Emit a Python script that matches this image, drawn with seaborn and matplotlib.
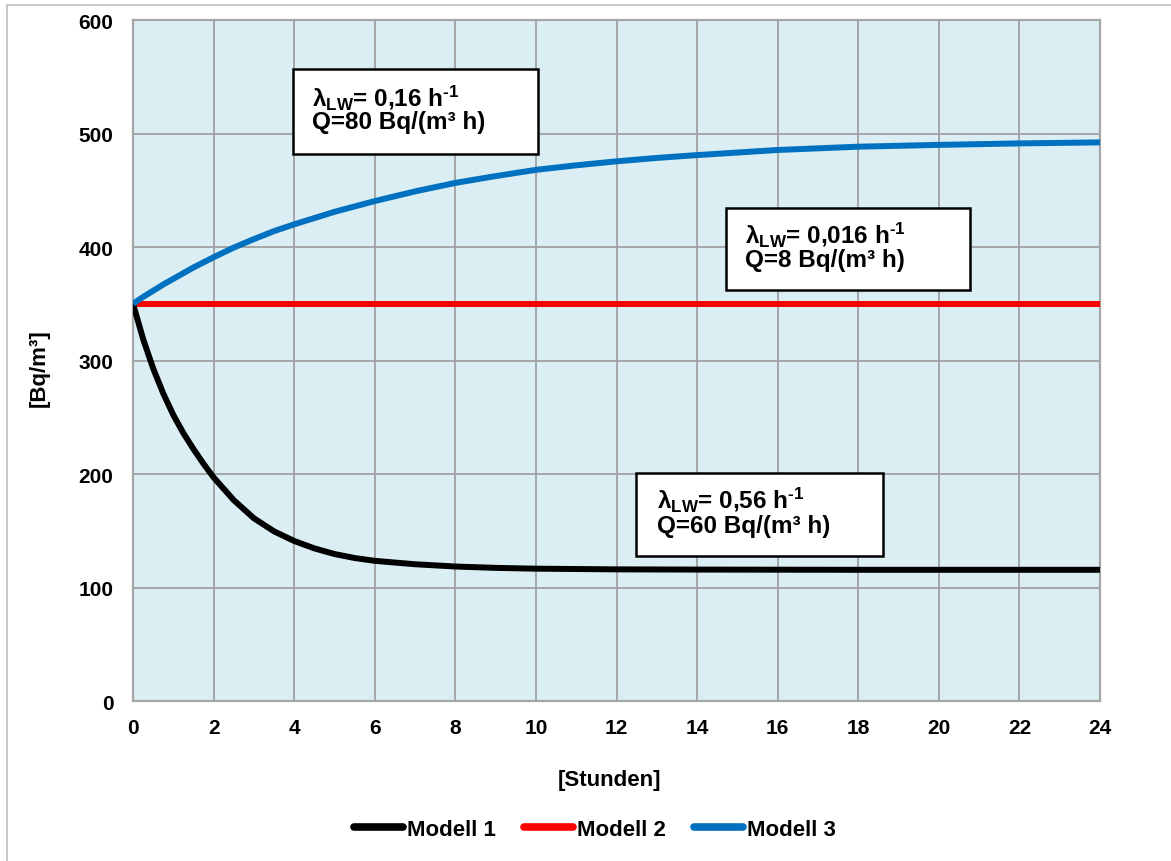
import numpy as np
import pandas as pd
import matplotlib
matplotlib.use("Agg")
import matplotlib.pyplot as plt
import seaborn as sns
from matplotlib.patches import Rectangle
from matplotlib.lines import Line2D

# ---- data ----
hours_m1 = [0, 0.25, 0.5, 0.75, 1, 1.25, 1.5, 1.75, 2, 2.5, 3, 3.5, 4, 4.5, 5, 5.5, 6, 7, 8, 9, 10, 12, 14, 16, 18, 20, 22, 24]
modell1 = [350, 319, 293, 271, 252, 236, 222, 209, 197, 177, 161, 149.5, 141, 134.5, 129.5, 126, 123.5, 120.5, 118.5, 117.3, 116.6, 116, 115.8, 115.7, 115.6, 115.6, 115.6, 115.6]
hours_m2 = [0, 24]
modell2 = [350, 350]
hours_m3 = [0, 0.25, 0.5, 0.75, 1, 1.5, 2, 2.5, 3, 3.5, 4, 5, 6, 7, 8, 9, 10, 11, 12, 13, 14, 16, 18, 20, 22, 24]
modell3 = [350, 356, 361.5, 367, 372, 382, 391, 399.5, 407, 414, 420, 431, 440.5, 449, 456.5, 462.5, 468, 472, 475.5, 478.5, 481, 485.5, 488.4, 490, 491.3, 492.2]
series_names = ["Modell 1", "Modell 2", "Modell 3"]
colors = ["#000000", "#FF0000", "#0070C0"]
x_ticks = list(range(0, 25, 2))
y_ticks = list(range(0, 601, 100))
annotations = [
    (r"λ$_{LW}$= 0,16 h$^{\text{-}1}$", "Q=80 Bq/(m³ h)"),
    (r"λ$_{LW}$= 0,016 h$^{\text{-}1}$", "Q=8 Bq/(m³ h)"),
    (r"λ$_{LW}$= 0,56 h$^{\text{-}1}$", "Q=60 Bq/(m³ h)"),
]

df = pd.DataFrame({
    "Stunden": hours_m1 + hours_m2 + hours_m3,
    "Wert": modell1 + modell2 + modell3,
    "Modell": [series_names[0]] * len(hours_m1) + [series_names[1]] * len(hours_m2)
              + [series_names[2]] * len(hours_m3),
})

sns.set_theme(style="white")
plt.rcParams["font.family"] = ["Liberation Sans", "DejaVu Sans"]
plt.rcParams["font.weight"] = "bold"
plt.rcParams["text.color"] = "black"
plt.rcParams["axes.labelcolor"] = "black"
plt.rcParams["xtick.labelcolor"] = "black"
plt.rcParams["ytick.labelcolor"] = "black"
plt.rcParams["mathtext.fontset"] = "custom"
plt.rcParams["mathtext.rm"] = "Liberation Sans:bold"
plt.rcParams["mathtext.it"] = "Liberation Sans:bold"
plt.rcParams["mathtext.bf"] = "Liberation Sans:bold"

fig = plt.figure(figsize=(11.71, 8.62), dpi=100)
ax = fig.add_axes([0.1136, 0.1856, 0.8258, 0.79])
ax.set_facecolor("#DAEEF3")

sns.lineplot(data=df, x="Stunden", y="Wert", hue="Modell", palette=colors,
             hue_order=series_names, ax=ax, linewidth=4.3, legend=False,
             estimator=None, sort=False)
for ln in ax.lines:
    ln.set_solid_capstyle("butt")
    ln.set_solid_joinstyle("round")
ax.lines[1].set_zorder(3)
ax.lines[0].set_zorder(4)
ax.lines[2].set_zorder(5)

ax.set_xlim(0, 24)
ax.set_ylim(0, 600)
ax.set_xticks(x_ticks)
ax.set_yticks(y_ticks)
ax.grid(True, color="#A0A0A0", linewidth=1.3)
ax.set_axisbelow(True)
for s in ax.spines.values():
    s.set_color("#A6A6A6")
    s.set_linewidth(1.6)
ax.tick_params(axis="both", direction="out", length=6, width=1.3, color="#A6A6A6",
               labelsize=15, labelcolor="black")
ax.tick_params(axis="y", pad=8)
ax.tick_params(axis="x", pad=6)
for lab in ax.get_xticklabels() + ax.get_yticklabels():
    lab.set_fontweight("bold")

ax.set_xlabel("[Stunden]", fontsize=16, fontweight="bold", color="black")
ax.set_ylabel("[Bq/m³]", fontsize=16, fontweight="bold", color="black")
ax.xaxis.set_label_coords(0.493, -0.10)
ax.yaxis.set_label_coords(-0.086, 0.49)

# annotation boxes (data coords)
boxes = [
    # (x0, x1, y0, y1, text_x, line1_y, line2_y)
    (3.97, 10.05, 482, 557, 4.43, 533, 511),
    (14.72, 20.77, 362, 434, 15.19, 411.5, 389),
    (12.49, 18.61, 128, 201, 13.0, 178, 154.5),
]
for (x0, x1, y0, y1, tx, l1, l2), (t1, t2) in zip(boxes, annotations):
    ax.add_patch(Rectangle((x0, y0), x1 - x0, y1 - y0, facecolor="white",
                           edgecolor="black", linewidth=1.8, zorder=6))
    ax.text(tx, l1, t1, fontsize=17.5, fontweight="bold", va="center", ha="left", zorder=7)
    ax.text(tx, l2, t2, fontsize=17.5, fontweight="bold", va="center", ha="left", zorder=7)

handles = [Line2D([0], [0], color=c, linewidth=5.5, solid_capstyle="round") for c in colors]
fig.legend(handles, series_names, loc="center", bbox_to_anchor=(0.508, 0.037),
           ncol=3, frameon=False, prop={"size": 16, "weight": "bold"},
           handlelength=2.2, handletextpad=0.15, columnspacing=1.3)

# outer frame
fig.add_artist(Line2D([7 / 1171, 7 / 1171], [0, 1 - 6 / 862], color="#BFBFBF", linewidth=1.2))
fig.add_artist(Line2D([7 / 1171, 1], [1 - 6 / 862, 1 - 6 / 862], color="#BFBFBF", linewidth=1.2))

fig.savefig("out.png", dpi=100)
